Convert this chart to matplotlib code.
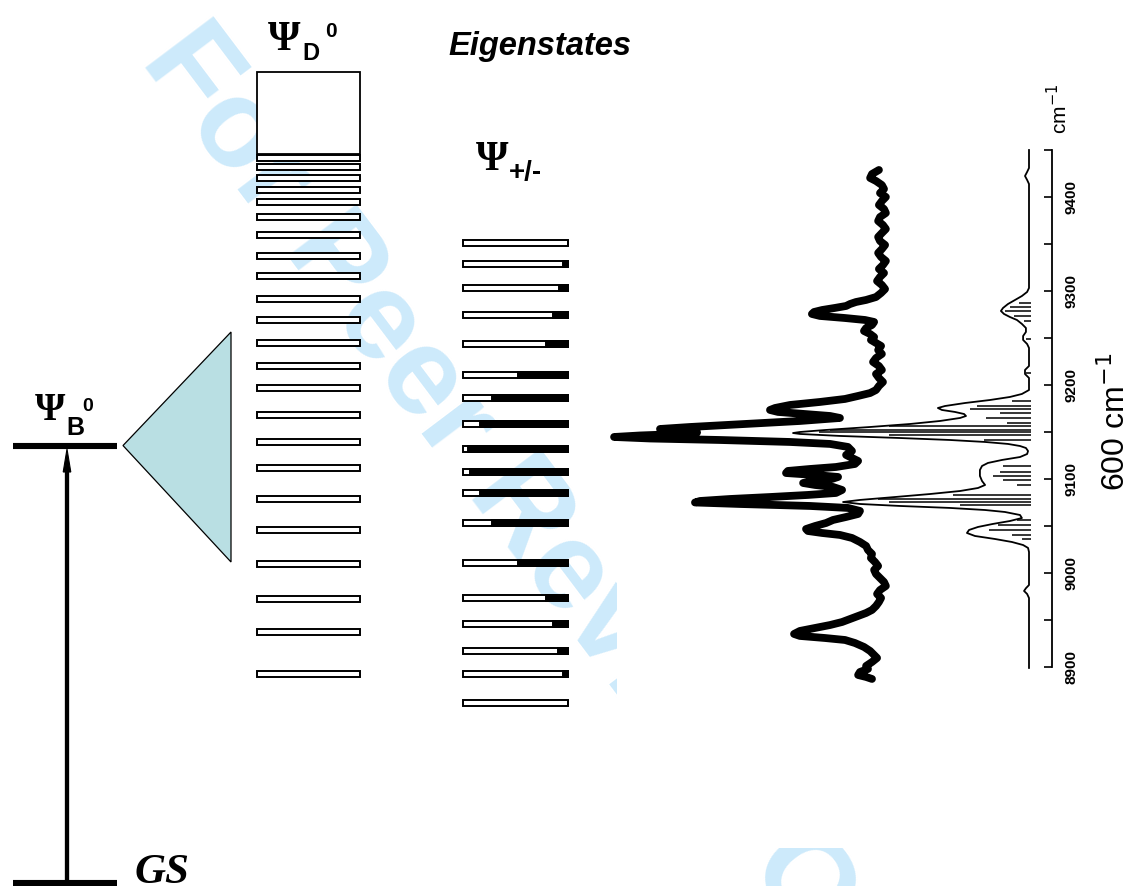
import matplotlib
matplotlib.use("Agg")
import matplotlib.pyplot as plt
from matplotlib.patches import Polygon, Rectangle
from matplotlib.ticker import FixedLocator, FuncFormatter

W, H = 1133, 886

# ---------------------------------------------------------------- data (cm^-1)
# zero-order dark states Psi_D^0 and the dense manifold above them
dark_levels = [9441.1, 9431.6, 9419.9, 9407.1, 9394.4, 9378.4, 9359.3, 9337.0,
               9315.7, 9291.3, 9269.0, 9244.6, 9220.1, 9196.7, 9168.0, 9139.3,
               9111.7, 9078.8, 9045.8, 9009.7, 8972.5, 8937.4, 8892.8]
dark_band = [9445.4, 9532.5]

# zero-order bright state Psi_B^0
bright_level = 9135.6

# eigenstates Psi_+/- and their bright-state fraction
eig_levels = [9351.1, 9328.2, 9303.0, 9274.6, 9243.2, 9210.9, 9185.8, 9158.2,
              9132.3, 9107.2, 9084.9, 9053.3, 9010.8, 8973.9, 8945.7, 8917.3,
              8892.6, 8862.4]
eig_bright = [0.0, 0.05, 0.09, 0.14, 0.21, 0.48, 0.72, 0.84, 0.95, 0.93,
              0.84, 0.72, 0.48, 0.21, 0.14, 0.10, 0.05, 0.0]

# experimental spectrum (wavenumber, relative intensity)
exp_wn = [9428.4, 9424.1, 9419.9, 9416.7, 9412.4, 9408.2, 9403.9, 9399.7,
          9395.4, 9391.2, 9386.9, 9382.7, 9378.4, 9374.2, 9369.9, 9365.7,
          9361.4, 9357.2, 9352.9, 9348.7, 9344.4, 9340.2, 9335.9, 9331.7,
          9327.4, 9323.2, 9318.9, 9314.7, 9310.4, 9306.2, 9301.9, 9297.7,
          9293.4, 9290.3, 9288.1, 9286.0, 9283.9, 9281.8, 9279.6, 9277.5,
          9275.4, 9273.3, 9271.1, 9269.0, 9266.9, 9263.7, 9260.5, 9257.3,
          9254.1, 9250.9, 9247.8, 9244.6, 9241.4, 9237.1, 9232.9, 9228.6,
          9224.4, 9220.1, 9215.9, 9211.6, 9207.4, 9203.1, 9198.9, 9194.6,
          9191.4, 9188.3, 9185.1, 9181.9, 9178.7, 9175.5, 9173.4, 9171.3,
          9169.1, 9167.0, 9164.9, 9161.7, 9158.5, 9155.3, 9153.2, 9151.1,
          9149.5, 9147.9, 9146.3, 9144.7, 9143.1, 9141.5, 9139.4, 9137.3,
          9134.1, 9129.8, 9125.6, 9122.4, 9119.2, 9116.0, 9112.8, 9110.7,
          9108.6, 9106.4, 9104.3, 9102.2, 9100.1, 9097.9, 9095.8, 9093.7,
          9091.6, 9088.4, 9085.2, 9083.1, 9080.9, 9078.8, 9076.7, 9075.1,
          9073.5, 9071.4, 9069.3, 9066.1, 9062.9, 9059.7, 9056.5, 9053.3,
          9050.1, 9046.9, 9044.8, 9042.7, 9040.6, 9037.4, 9033.1, 9028.9,
          9024.6, 9020.4, 9016.1, 9011.9, 9007.6, 9003.4, 8999.1, 8994.9,
          8990.6, 8986.4, 8982.1, 8977.9, 8973.6, 8969.4, 8965.1, 8960.9,
          8957.7, 8954.5, 8951.3, 8948.1, 8944.9, 8941.8, 8938.6, 8935.4,
          8933.3, 8931.1, 8929.0, 8925.8, 8921.6, 8917.3, 8913.1, 8909.9,
          8905.6, 8901.4, 8898.2, 8895.0, 8891.8, 8889.7, 8887.6]
exp_int = [0.004, 0.030, 0.037, 0.015, -0.007, -0.015, 0.000, -0.022,
           -0.007, 0.004, -0.015, -0.022, 0.000, 0.007, -0.011, -0.022,
           -0.007, 0.007, 0.000, -0.019, -0.007, 0.007, -0.004, -0.022,
           -0.011, 0.004, -0.015, 0.000, 0.011, -0.007, -0.019, -0.004,
           0.015, 0.052, 0.090, 0.112, 0.127, 0.169, 0.217, 0.247,
           0.255, 0.225, 0.131, 0.056, 0.022, 0.030, 0.052, 0.060,
           0.037, 0.022, 0.034, 0.015, -0.004, 0.007, -0.007, 0.015,
           0.026, 0.004, -0.007, 0.015, 0.004, -0.011, 0.004, 0.015,
           0.037, 0.082, 0.131, 0.225, 0.337, 0.393, 0.412, 0.382,
           0.281, 0.187, 0.150, 0.300, 0.506, 0.712, 0.824, 0.779,
           0.685, 0.749, 0.899, 0.996, 0.861, 0.599, 0.337, 0.187,
           0.120, 0.105, 0.127, 0.105, 0.082, 0.094, 0.165, 0.262,
           0.345, 0.352, 0.243, 0.157, 0.180, 0.255, 0.288, 0.243,
           0.176, 0.142, 0.165, 0.270, 0.412, 0.562, 0.674, 0.693,
           0.524, 0.262, 0.120, 0.075, 0.082, 0.127, 0.176, 0.202,
           0.243, 0.277, 0.270, 0.217, 0.150, 0.105, 0.075, 0.052,
           0.045, 0.030, 0.034, 0.019, 0.007, 0.022, 0.015, 0.000,
           -0.015, -0.022, 0.000, 0.011, -0.004, 0.004, 0.015, 0.030,
           0.052, 0.082, 0.112, 0.142, 0.187, 0.243, 0.300, 0.322,
           0.300, 0.206, 0.131, 0.094, 0.060, 0.037, 0.022, 0.011,
           0.030, 0.052, 0.045, 0.075, 0.082, 0.052, 0.030]

# calculated spectrum (broadened) and stick spectrum
calc_wn = [9449.6, 9430.5, 9426.3, 9422.0, 9417.8, 9413.5, 9303.0, 9298.8,
           9294.5, 9290.3, 9286.0, 9281.8, 9278.6, 9275.4, 9272.2, 9269.0,
           9264.8, 9260.5, 9256.3, 9252.0, 9247.8, 9243.5, 9239.3, 9220.1,
           9215.9, 9211.6, 9207.4, 9194.6, 9190.4, 9187.2, 9184.0, 9180.8,
           9177.6, 9175.5, 9173.4, 9171.3, 9169.1, 9167.0, 9164.9, 9161.7,
           9158.5, 9155.3, 9152.1, 9150.0, 9148.9, 9147.9, 9145.8, 9143.6,
           9141.5, 9139.4, 9137.3, 9135.1, 9133.0, 9129.8, 9126.6, 9123.4,
           9120.3, 9117.1, 9113.9, 9109.6, 9103.3, 9097.9, 9093.7, 9090.5,
           9087.3, 9084.1, 9080.9, 9077.8, 9075.6, 9073.5, 9071.4, 9069.3,
           9067.1, 9065.0, 9061.8, 9058.6, 9055.4, 9052.3, 9049.1, 9045.9,
           9042.7, 9039.5, 9036.3, 9033.1, 9029.9, 9026.8, 9022.5, 8987.4,
           8984.0, 8981.1, 8977.9, 8973.6, 8899.3]
calc_int = [0.0, 0.0, 0.008, 0.017, 0.008, 0.0, 0.0, 0.008,
            0.030, 0.059, 0.089, 0.110, 0.119, 0.106, 0.081, 0.051,
            0.030, 0.013, 0.013, 0.025, 0.025, 0.008, 0.0, 0.0,
            0.017, 0.017, 0.0, 0.0, 0.030, 0.081, 0.165, 0.271,
            0.356, 0.386, 0.369, 0.314, 0.275, 0.267, 0.292, 0.377,
            0.504, 0.674, 0.864, 0.970, 1.000, 0.970, 0.801, 0.547,
            0.335, 0.186, 0.089, 0.038, 0.013, 0.004, 0.008, 0.038,
            0.114, 0.174, 0.199, 0.208, 0.208, 0.199, 0.186, 0.216,
            0.292, 0.419, 0.568, 0.716, 0.788, 0.716, 0.547, 0.335,
            0.186, 0.102, 0.038, 0.030, 0.081, 0.153, 0.216, 0.254,
            0.263, 0.229, 0.144, 0.072, 0.025, 0.004, 0.0, 0.0,
            0.013, 0.021, 0.008, 0.0, 0.0]

stick_wn = [9287.0, 9282.8, 9278.5, 9273.2, 9268.0, 9248.8, 9213.0,
            9183.0, 9178.0, 9174.0, 9170.5, 9164.5, 9160.0,
            9156.0, 9152.5, 9149.5, 9146.5, 9142.0,
            9114.0, 9108.0, 9103.5, 9099.0, 9094.0,
            9083.0, 9079.0, 9075.5, 9072.0,
            9057.0, 9051.0, 9046.0, 9041.0, 9036.5]
stick_int = [0.05, 0.09, 0.11, 0.07, 0.03, 0.02, 0.02,
             0.08, 0.23, 0.26, 0.13, 0.19, 0.10,
             0.60, 0.85, 0.90, 0.60, 0.20,
             0.12, 0.13, 0.16, 0.12, 0.06,
             0.33, 0.65, 0.60, 0.30,
             0.06, 0.14, 0.18, 0.08, 0.04]

axis_labels = [8900, 9000, 9100, 9200, 9300, 9400]
axis_minor = [8950, 9050, 9150, 9250, 9350, 9450]

# ---------------------------------------------------------------- canvas
E_TOP, E_BOT = 9609.0, 8667.6          # cm^-1 at the top / bottom edge


def wn(y):
    """canvas row (pixels from top) -> cm^-1 on the energy axis"""
    return E_TOP - (E_TOP - E_BOT) * y / H


fig = plt.figure(figsize=(W / 100, H / 100), dpi=100)
fig.patch.set_facecolor("white")

# background layer: watermark, covered on the right by the spectrum panel
bg = fig.add_axes([0, 0, 1, 1], zorder=0)
bg.set_xlim(0, W)
bg.set_ylim(H, 0)
bg.axis("off")
bg.text(140, 60, "For Peer Review Only", color="#cdeafb",
        fontsize=90, fontweight="bold", family="Liberation Sans",
        rotation=-53, rotation_mode="anchor", ha="left", va="baseline",
        zorder=1)
bg.add_patch(Rectangle((617, 0), W - 617, 848, facecolor="white",
                       edgecolor="none", zorder=5))

# main layer: energy on y
ax = fig.add_axes([0, 0, 1, 1], zorder=1)
ax.patch.set_visible(False)
ax.set_xlim(0, W)
ax.set_ylim(E_BOT, E_TOP)
for s in ("left", "top", "bottom"):
    ax.spines[s].set_visible(False)
ax.spines["right"].set_position(("data", 1052))
ax.spines["right"].set_bounds(8900, 9450)
ax.spines["right"].set_linewidth(1.3)
ax.xaxis.set_visible(False)
ax.yaxis.set_ticks_position("right")
ax.yaxis.set_major_locator(FixedLocator(axis_labels))
ax.yaxis.set_minor_locator(FixedLocator(axis_minor))
ax.yaxis.set_major_formatter(FuncFormatter(lambda v, p: f"{v:.0f}"))
ax.tick_params(axis="y", which="both", direction="in", length=6, width=1.2,
               pad=9)
ax.tick_params(axis="y", which="major", labelsize=11, labelrotation=90)
for lab in ax.get_yticklabels():
    lab.set_fontweight("bold")
    lab.set_family("Liberation Sans")
    lab.set_va("center")

# Psi_D^0 column
DX0, DW = 257, 103
band_c = (dark_band[0] + dark_band[1]) / 2
ax.barh([band_c], [DW], left=DX0, height=dark_band[1] - dark_band[0],
        facecolor="white", edgecolor="black", linewidth=1.3, zorder=3)
ax.barh(dark_levels, DW, left=DX0, height=5.8, facecolor="white",
        edgecolor="black", linewidth=1.4, zorder=3)

# Psi_+/- column: white = dark character, black = bright character
PX0, PW = 463, 105
ax.barh(eig_levels, PW, left=PX0, height=6.5, facecolor="white",
        edgecolor="black", linewidth=1.4, zorder=3)
ax.barh(eig_levels, [PW * f for f in eig_bright],
        left=[PX0 + PW * (1 - f) for f in eig_bright], height=6.5,
        facecolor="black", edgecolor="black", linewidth=1.4, zorder=4)

# bright state, ground state and excitation arrow
GS_Y = wn(883)
ax.hlines([bright_level, GS_Y], 13, 117, color="black", linewidth=4.4,
          zorder=3)
head_tip, head_base = wn(449), wn(472)
ax.vlines(67, GS_Y, head_base, color="black", linewidth=3.1, zorder=3)
ax.add_patch(Polygon([(67, head_tip), (63.2, head_base), (70.8, head_base)],
                     closed=True, facecolor="black", edgecolor="black",
                     linewidth=0.8, zorder=3))

# coupling wedge
ax.add_patch(Polygon([(123, bright_level), (231, wn(332)), (231, wn(562))],
                     closed=True, facecolor="#b9dfe3", edgecolor="black",
                     linewidth=0.9, zorder=2))

# spectra (intensity grows to the left)
EXP_BASE, EXP_SCALE = 880, 267
CALC_BASE, CALC_SCALE = 1029, 236
ax.hlines(stick_wn, [CALC_BASE + 2 - CALC_SCALE * v for v in stick_int],
          CALC_BASE + 2, color="black", linewidth=1.1, zorder=3)
ax.plot([CALC_BASE - CALC_SCALE * v for v in calc_int], calc_wn,
        color="black", linewidth=1.3, zorder=3)
ax.plot([EXP_BASE - EXP_SCALE * v for v in exp_int], exp_wn, color="black",
        linewidth=5.6, solid_joinstyle="round", solid_capstyle="round",
        zorder=5)

# ---------------------------------------------------------------- labels


def ftext(x, y, s, **kw):
    fig.text(x / W, 1 - y / H, s, **kw)


PSI = dict(family="Liberation Serif", fontweight="bold")
SUB = dict(family="Liberation Sans", fontweight="bold")

ftext(284, 50, "\u03a8", ha="center", va="baseline", fontsize=30, **PSI)
ftext(302, 60, "D", ha="left", va="baseline", fontsize=17, **SUB)
ftext(325, 37, "0", ha="left", va="baseline", fontsize=15, **SUB)

ftext(492, 170, "\u03a8", ha="center", va="baseline", fontsize=30, **PSI)
ftext(509, 180, "+/-", ha="left", va="baseline", fontsize=20, **SUB)

ftext(50, 420, "\u03a8", ha="center", va="baseline", fontsize=28, **PSI)
ftext(66, 435, "B", ha="left", va="baseline", fontsize=18, **SUB)
ftext(82, 411, "0", ha="left", va="baseline", fontsize=14, **SUB)

ftext(540, 55, "Eigenstates", ha="center", va="baseline",
      family="Liberation Sans", fontweight="bold", fontstyle="italic",
      fontsize=23.5)
ftext(135, 883, "GS", ha="left", va="baseline", family="Liberation Serif",
      fontweight="bold", fontstyle="italic", fontsize=31)

ftext(1059, 109, r"cm$^{-1}$", rotation=90, ha="center", va="center",
      family="Liberation Sans", fontsize=15)
ftext(1116, 422, r"600 cm$^{-1}$", rotation=90, ha="center", va="center",
      family="Liberation Sans", fontsize=23)

fig.savefig("out.png", dpi=100, facecolor="white")
